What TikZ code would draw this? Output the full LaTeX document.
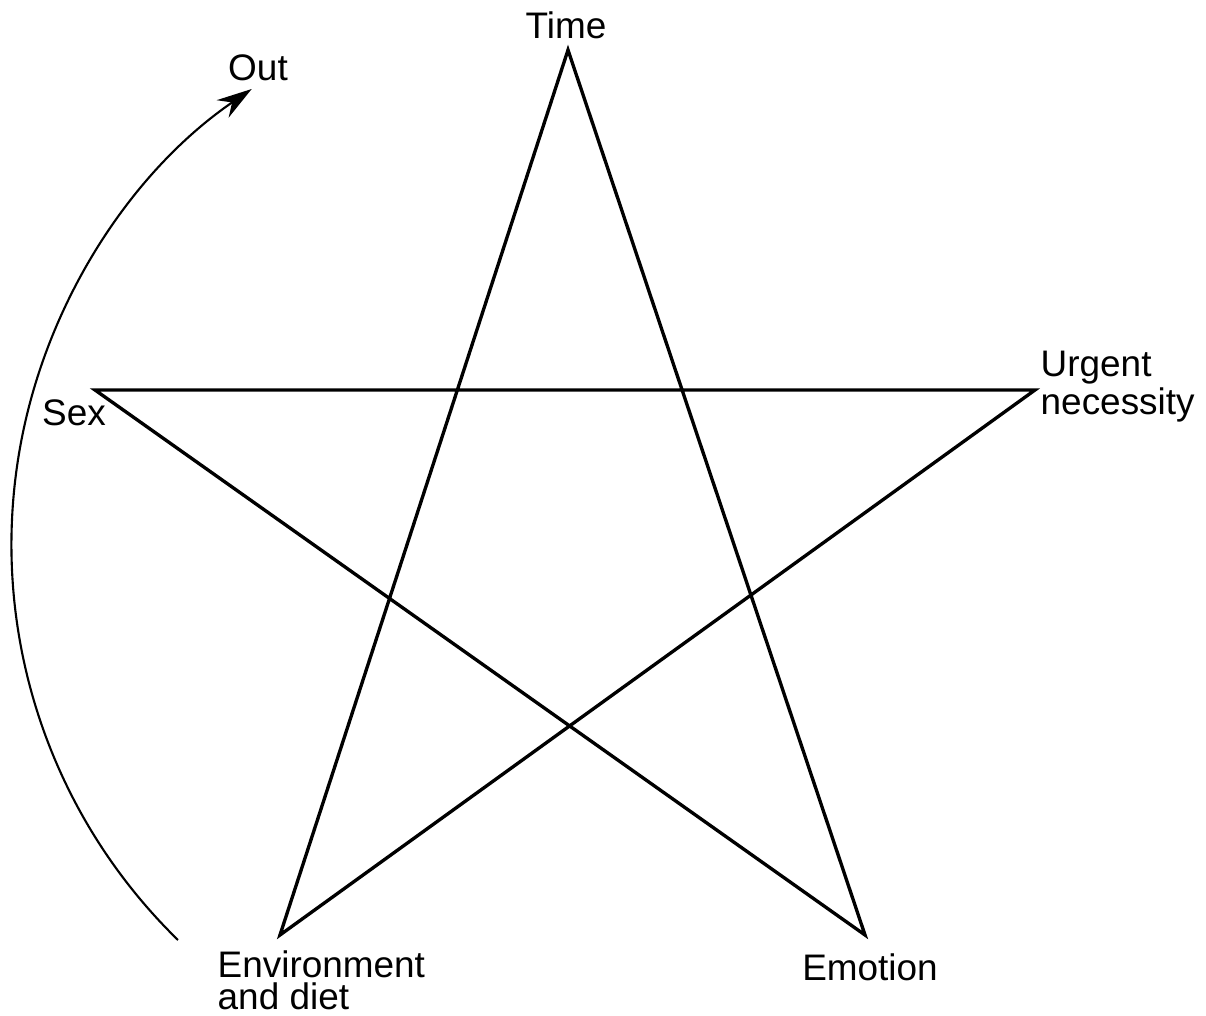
\documentclass[tikz,border=0pt]{standalone}
\usepackage{fontspec}
\setmainfont{Liberation Sans}
\usetikzlibrary{arrows.meta}
\begin{document}
\begin{tikzpicture}[x=0.01cm,y=0.01cm,
  lbl/.style={inner sep=0pt, font=\fontsize{10.5}{9.2}\selectfont},
  starline/.style={line width=0.95pt, line join=miter},
  arcline/.style={line width=0.6pt}]
\useasboundingbox (0,0) rectangle (1206,1015);
% pentagram points (y = 1015 - pixel y)
\coordinate (T) at (568,965);
\coordinate (S) at (95,625);
\coordinate (U) at (1035,625);
\coordinate (E) at (280,80);
\coordinate (M) at (865,80);
\draw[starline] (T) -- (M) -- (S) -- (U) -- (E) -- cycle;
% labels
\node[lbl] (time) at (566,990) {Time};
\node[lbl] (out) at (258,947) {Out};
\node[lbl] (sex) at (74,602) {Sex};
\node[lbl, anchor=west, align=left] (urg) at (1040,628) {Urgent\\necessity};
\node[lbl, anchor=west, align=left] (env) at (217,35) {Environment\\and diet};
\node[lbl] (emo) at (870,48) {Emotion};
% curved arrow
\coordinate (a0) at (178,75);
\draw[arcline, -{Stealth[length=10pt,width=6pt]}] (a0) arc[start angle=225.7, end angle=124.4, radius=5.52cm] coordinate (a1);
\end{tikzpicture}
\end{document}
